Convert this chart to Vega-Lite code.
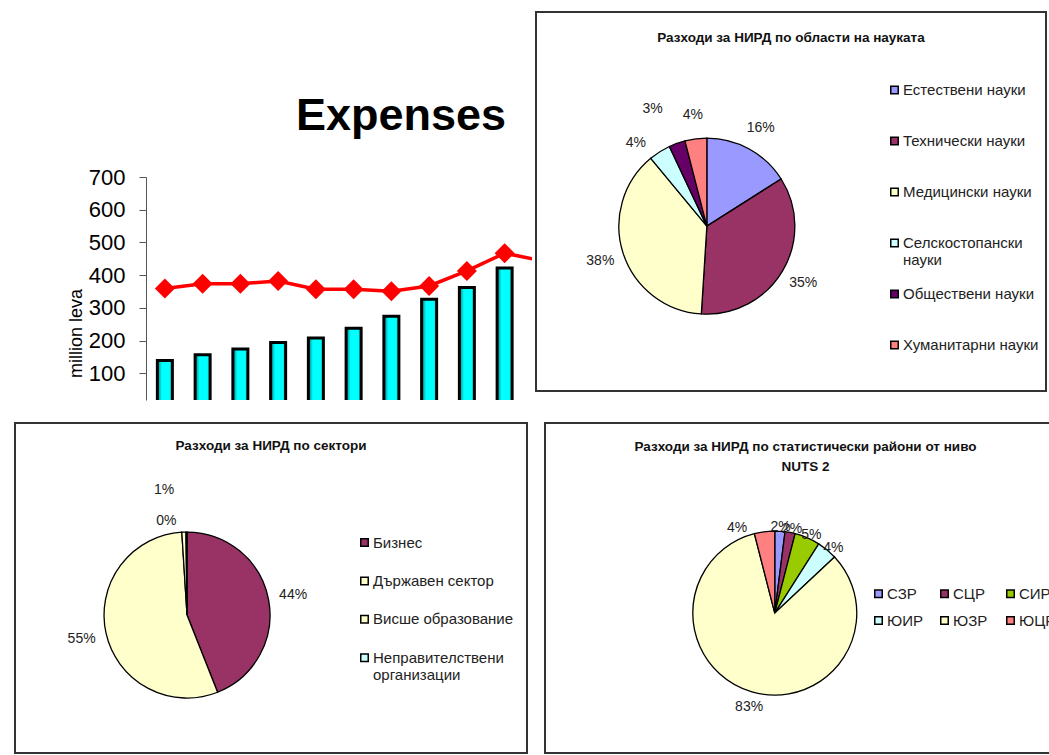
{
  "$schema": "https://vega.github.io/schema/vega-lite/v6.json",
  "padding": {"left": 12, "top": 11, "right": 0, "bottom": 0},
  "background": "white",
  "config": {"view": {"stroke": null}, "font": "Liberation Sans", "axis": {"labelOverlap": false}},
  "resolve": {"scale": {"color": "independent"}},
  "spacing": 22,
  "vconcat": [
    {
      "spacing": 3,
      "resolve": {"scale": {"color": "independent"}},
      "hconcat": [
        {
          "spacing": 0,
          "vconcat": [
            {"width": 1, "height": 82, "data": {"values": [{"k": 0}]}, "mark": {"type": "point", "opacity": 0}},
            {
              "spacing": 0,
              "hconcat": [
                {"width": 52, "height": 1, "data": {"values": [{"k": 0}]}, "mark": {"type": "point", "opacity": 0}},
                {
                  "width": 386,
                  "height": 223,
                  "title": {"text": "Expenses", "font": "Liberation Sans", "fontSize": 45, "fontWeight": "bold", "color": "#000", "anchor": "middle", "frame": "group", "dx": 62, "baseline": "alphabetic", "offset": -9},
                  "data": {"values": [
                    {"year": 2000, "expenses": 139, "line": 359},
                    {"year": 2001, "expenses": 157, "line": 374},
                    {"year": 2002, "expenses": 174, "line": 374},
                    {"year": 2003, "expenses": 194, "line": 382},
                    {"year": 2004, "expenses": 208, "line": 357},
                    {"year": 2005, "expenses": 238, "line": 357},
                    {"year": 2006, "expenses": 274, "line": 351},
                    {"year": 2007, "expenses": 326, "line": 367},
                    {"year": 2008, "expenses": 362, "line": 413},
                    {"year": 2009, "expenses": 422, "line": 467},
                    {"year": 2010, "expenses": null, "line": 444}
                  ]},
                  "encoding": {
                    "x": {"field": "year", "type": "quantitative", "scale": {"domain": [1999.5, 2009.725], "nice": false, "zero": false, "padding": 0}, "axis": null}
                  },
                  "layer": [
                    {
                      "mark": {"type": "bar", "width": 15, "stroke": "#000", "strokeWidth": 3, "clip": true,
                        "color": {"gradient": "linear", "x1": 0, "x2": 1, "y1": 0, "y2": 0, "stops": [
                          {"offset": 0, "color": "#008080"},
                          {"offset": 0.3, "color": "#00FFFF"},
                          {"offset": 0.8, "color": "#00FFFF"},
                          {"offset": 1, "color": "#00CCCC"}
                        ]}},
                      "encoding": {
                        "y": {"field": "expenses", "type": "quantitative", "title": "million leva",
                          "scale": {"domain": [18.3, 700], "nice": false, "zero": false},
                          "axis": {"values": [100, 200, 300, 400, 500, 600, 700], "tickCount": 10, "grid": false, "labelOverlap": false,
                            "labelFont": "Liberation Sans", "labelFontSize": 22, "labelColor": "#000", "labelPadding": 14,
                            "tickSize": 7, "tickColor": "#555", "domainColor": "#555",
                            "titleFont": "Liberation Sans", "titleFontSize": 18, "titleFontWeight": "normal", "titleColor": "#000",
                            "titlePadding": 3, "titleY": 156}}
                      }
                    },
                    {
                      "mark": {"type": "line", "color": "#FF0000", "strokeWidth": 3.5, "clip": true},
                      "encoding": {"y": {"field": "line", "type": "quantitative", "title": "million leva"}}
                    },
                    {
                      "mark": {"type": "point", "shape": "diamond", "size": 400, "filled": true, "color": "#FF0000", "opacity": 1, "clip": true},
                      "encoding": {"y": {"field": "line", "type": "quantitative", "title": "million leva"}}
                    }
                  ]
                }
              ]
            }
          ]
        },
        {
          "width": 510,
          "height": 379,
          "view": {"stroke": "#333", "strokeWidth": 2},
          "title": {"text": "Разходи за НИРД по области на науката", "font": "Liberation Sans", "fontSize": 13.5, "fontWeight": "bold", "color": "#111", "anchor": "middle", "frame": "group", "baseline": "top", "offset": -32},
          "data": {"values": [
            {"area": "Естествени науки", "share": 0.16, "idx": 1},
            {"area": "Технически науки", "share": 0.35, "idx": 2},
            {"area": "Медицински науки", "share": 0.38, "idx": 3},
            {"area": "Селскостопански науки", "share": 0.04, "idx": 4},
            {"area": "Обществени науки", "share": 0.03, "idx": 5},
            {"area": "Хуманитарни науки", "share": 0.04, "idx": 6}
          ]},
          "encoding": {
            "theta": {"field": "share", "type": "quantitative", "stack": true},
            "order": {"field": "idx", "type": "quantitative"},
            "x": {"datum": 0.335, "type": "quantitative", "scale": {"domain": [0, 1], "nice": false, "zero": false}, "axis": null},
            "y": {"datum": 0.565, "type": "quantitative", "scale": {"domain": [0, 1], "nice": false, "zero": false, "reverse": true}, "axis": null}
          },
          "layer": [
            {
              "mark": {"type": "arc", "outerRadius": 88, "stroke": "#000", "strokeWidth": 1.3},
              "encoding": {
                "color": {"field": "area", "type": "nominal",
                  "scale": {"domain": ["Естествени науки", "Технически науки", "Медицински науки", "Селскостопански науки", "Обществени науки", "Хуманитарни науки"],
                    "range": ["#9999FF", "#993366", "#FFFFCC", "#CCFFFF", "#660066", "#FF8080"]},
                  "legend": {"orient": "none", "legendX": 351, "legendY": 70.5, "title": null,
                    "labelFont": "Liberation Sans", "labelFontSize": 15, "labelColor": "#222", "labelLimit": 300, "labelOffset": 1,
                    "symbolType": "square", "symbolSize": 56, "symbolStrokeColor": "#000", "symbolStrokeWidth": 1.5,
                    "gridAlign": "all", "rowPadding": 18,
                    "labelExpr": "length(datum.label) > 18 ? split(datum.label, ' ') : datum.label"}}
              }
            },
            {
              "mark": {"type": "text", "radius": 112, "fontSize": 14, "font": "Liberation Sans", "color": "#222"},
              "encoding": {"text": {"condition": {"test": "datum.idx != 4 && datum.idx != 5", "field": "share", "type": "quantitative", "format": ".0%"}, "value": ""}}
            },
            {
              "mark": {"type": "text", "radius": 112, "dx": -11, "dy": 11, "fontSize": 14, "font": "Liberation Sans", "color": "#222"},
              "encoding": {"text": {"condition": {"test": "datum.idx == 4", "field": "share", "type": "quantitative", "format": ".0%"}, "value": ""}}
            },
            {
              "mark": {"type": "text", "radius": 125, "dx": -12, "fontSize": 14, "font": "Liberation Sans", "color": "#222"},
              "encoding": {"text": {"condition": {"test": "datum.idx == 5", "field": "share", "type": "quantitative", "format": ".0%"}, "value": ""}}
            }
          ]
        }
      ]
    },
    {
      "spacing": 16,
      "resolve": {"scale": {"color": "independent"}},
      "hconcat": [
        {
          "width": 512,
          "height": 330,
          "view": {"stroke": "#333", "strokeWidth": 2},
          "title": {"text": "Разходи за НИРД по сектори", "font": "Liberation Sans", "fontSize": 13.5, "fontWeight": "bold", "color": "#111", "anchor": "middle", "frame": "group", "baseline": "top", "offset": -29},
          "data": {"values": [
            {"sector": "Бизнес", "share": 0.44, "idx": 1},
            {"sector": "Държавен сектор", "share": 0.55, "idx": 2},
            {"sector": "Висше образование", "share": 0.008, "idx": 3},
            {"sector": "Неправителствени организации", "share": 0.002, "idx": 4}
          ]},
          "encoding": {
            "theta": {"field": "share", "type": "quantitative", "stack": true},
            "order": {"field": "idx", "type": "quantitative"},
            "x": {"datum": 0.336, "type": "quantitative", "scale": {"domain": [0, 1], "nice": false, "zero": false}, "axis": null},
            "y": {"datum": 0.582, "type": "quantitative", "scale": {"domain": [0, 1], "nice": false, "zero": false, "reverse": true}, "axis": null}
          },
          "layer": [
            {
              "mark": {"type": "arc", "outerRadius": 83, "stroke": "#000", "strokeWidth": 1.3},
              "encoding": {
                "color": {"field": "sector", "type": "nominal",
                  "scale": {"domain": ["Бизнес", "Държавен сектор", "Висше образование", "Неправителствени организации"],
                    "range": ["#993366", "#FFFFCC", "#FFFFCC", "#CCFFFF"]},
                  "legend": {"orient": "none", "legendX": 342, "legendY": 112, "title": null,
                    "labelFont": "Liberation Sans", "labelFontSize": 15, "labelColor": "#222", "labelLimit": 300, "labelOffset": 1,
                    "symbolType": "square", "symbolSize": 56, "symbolStrokeColor": "#000", "symbolStrokeWidth": 1.5,
                    "gridAlign": "all", "rowPadding": 5.4,
                    "labelExpr": "length(datum.label) > 18 ? split(datum.label, ' ') : datum.label"}}
              }
            },
            {
              "mark": {"type": "text", "radius": 108, "fontSize": 14, "font": "Liberation Sans", "color": "#222"},
              "encoding": {"text": {"condition": {"test": "datum.share >= 0.01", "field": "share", "type": "quantitative", "format": ".0%"}, "value": ""}}
            },
            {
              "mark": {"type": "text", "radius": 125, "fontSize": 14, "font": "Liberation Sans", "color": "#222", "align": "right", "dx": -8},
              "encoding": {"text": {"condition": {"test": "datum.share >= 0.005 && datum.share < 0.01", "field": "share", "type": "quantitative", "format": ".0%"}, "value": ""}}
            },
            {
              "mark": {"type": "text", "radius": 94, "fontSize": 14, "font": "Liberation Sans", "color": "#222", "align": "right", "dx": -10},
              "encoding": {"text": {"condition": {"test": "datum.share < 0.005", "field": "share", "type": "quantitative", "format": ".0%"}, "value": ""}}
            }
          ]
        },
        {
          "width": 505,
          "height": 330,
          "view": {"stroke": "#333", "strokeWidth": 2},
          "title": {"text": ["Разходи за НИРД по статистически райони от ниво", "NUTS 2"], "font": "Liberation Sans", "fontSize": 13.5, "fontWeight": "bold", "color": "#111", "anchor": "middle", "frame": "group", "baseline": "top", "offset": -50, "lineHeight": 20, "dx": 8},
          "data": {"values": [
            {"region": "СЗР", "share": 0.02, "idx": 1},
            {"region": "СЦР", "share": 0.02, "idx": 2},
            {"region": "СИР", "share": 0.05, "idx": 3},
            {"region": "ЮИР", "share": 0.04, "idx": 4},
            {"region": "ЮЗР", "share": 0.83, "idx": 5},
            {"region": "ЮЦР", "share": 0.04, "idx": 6}
          ]},
          "encoding": {
            "theta": {"field": "share", "type": "quantitative", "stack": true},
            "order": {"field": "idx", "type": "quantitative"},
            "x": {"datum": 0.455, "type": "quantitative", "scale": {"domain": [0, 1], "nice": false, "zero": false}, "axis": null},
            "y": {"datum": 0.576, "type": "quantitative", "scale": {"domain": [0, 1], "nice": false, "zero": false, "reverse": true}, "axis": null}
          },
          "layer": [
            {
              "mark": {"type": "arc", "outerRadius": 82, "stroke": "#000", "strokeWidth": 1.3},
              "encoding": {
                "color": {"field": "region", "type": "nominal",
                  "scale": {"domain": ["СЗР", "СЦР", "СИР", "ЮИР", "ЮЗР", "ЮЦР"],
                    "range": ["#9999FF", "#993366", "#99CC00", "#CCFFFF", "#FFFFCC", "#FF8080"]},
                  "legend": {"orient": "none", "legendX": 326, "legendY": 163, "title": null, "columns": 3, "direction": "horizontal",
                    "labelFont": "Liberation Sans", "labelFontSize": 15, "labelColor": "#222", "labelLimit": 300, "labelOffset": 1,
                    "symbolType": "square", "symbolSize": 56, "symbolStrokeColor": "#000", "symbolStrokeWidth": 1.5,
                    "gridAlign": "all", "rowPadding": 11, "columnPadding": 13}}
              }
            },
            {
              "mark": {"type": "text", "radius": 92, "dy": 6, "fontSize": 14, "font": "Liberation Sans", "color": "#222"},
              "encoding": {"text": {"condition": {"test": "datum.idx != 6", "field": "share", "type": "quantitative", "format": ".0%"}, "value": ""}}
            },
            {
              "mark": {"type": "text", "radius": 92, "dy": 6, "fontSize": 14, "font": "Liberation Sans", "color": "#222", "align": "right", "dx": -16},
              "encoding": {"text": {"condition": {"test": "datum.idx == 6", "field": "share", "type": "quantitative", "format": ".0%"}, "value": ""}}
            }
          ]
        }
      ]
    }
  ]
}
